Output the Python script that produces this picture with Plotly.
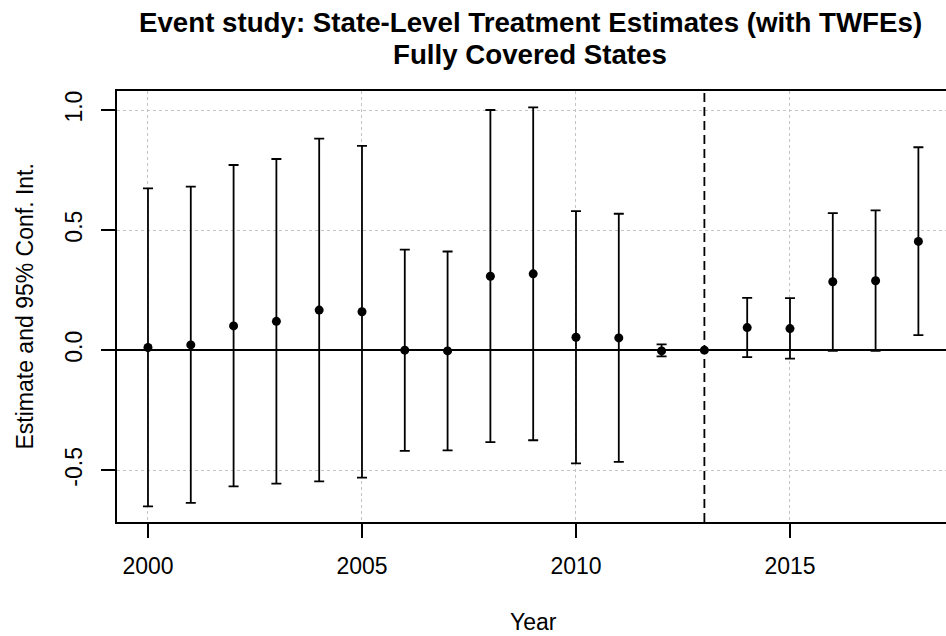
import plotly.graph_objects as go

# Event-study coefficients by year, with 95% confidence bounds
years = list(range(2000, 2019))
estimate = [0.011, 0.022, 0.101, 0.120, 0.167, 0.160, 0.000, -0.003, 0.308, 0.318,
            0.054, 0.051, -0.003, 0.000, 0.094, 0.090, 0.285, 0.289, 0.453]
upper = [0.674, 0.681, 0.771, 0.796, 0.881, 0.851, 0.419, 0.411, 1.000, 1.011,
         0.579, 0.568, 0.024, 0.000, 0.218, 0.217, 0.571, 0.582, 0.845]
lower = [-0.650, -0.636, -0.567, -0.556, -0.546, -0.531, -0.419, -0.417, -0.383, -0.375,
         -0.471, -0.465, -0.026, 0.000, -0.029, -0.035, -0.003, -0.003, 0.0625]

treatment_year = 2013
x_ticks = [2000, 2005, 2010, 2015]
y_ticks = [-0.5, 0.0, 0.5, 1.0]
y_tick_text = ["-0.5", "0.0", "0.5", "1.0"]

title_line1 = "Event study: State-Level Treatment Estimates (with TWFEs)"
title_line2 = "Fully Covered States"
x_title = "Year"
y_title = "Estimate and 95% Conf. Int."

FONT = "Liberation Sans, Arial, Helvetica, sans-serif"
AXIS_SIZE = 23
TITLE_SIZE = 27.7

err_plus = [u - e for u, e in zip(upper, estimate)]
err_minus = [e - l for e, l in zip(estimate, lower)]

fig = go.Figure()
fig.add_trace(go.Scatter(
    x=years, y=estimate, mode="markers",
    marker=dict(symbol="circle", size=9, color="black"),
    error_y=dict(type="data", array=err_plus, arrayminus=err_minus,
                 color="black", thickness=1.8, width=5, symmetric=False),
    showlegend=False, hoverinfo="x+y",
))

# treatment onset marker
fig.add_shape(type="line", xref="x", yref="paper", x0=treatment_year, x1=treatment_year,
              y0=0, y1=1, line=dict(color="black", width=1.8, dash="9px,5px"), layer="above")

fig.update_layout(
    width=946, height=636,
    margin=dict(l=117, r=0, t=91, b=114),
    paper_bgcolor="white", plot_bgcolor="white",
    font=dict(family=FONT, color="black", size=AXIS_SIZE),
    xaxis=dict(
        range=[1999.276, 2018.645], tickvals=x_ticks,
        showgrid=True, gridcolor="#c4c4c4", gridwidth=1, griddash="dot",
        showline=True, linecolor="black", linewidth=2, mirror=True,
        ticks="outside", ticklen=14, tickwidth=2, tickcolor="black",
        tickfont=dict(family=FONT, size=AXIS_SIZE, color="black"),
        ticklabelstandoff=8, zeroline=False,
    ),
    yaxis=dict(
        range=[-0.7154, 1.0792], tickvals=y_ticks, ticktext=y_tick_text,
        tickangle=-90,
        showgrid=True, gridcolor="#c4c4c4", gridwidth=1, griddash="dot",
        showline=True, linecolor="black", linewidth=2, mirror=False,
        ticks="outside", ticklen=14, tickwidth=2, tickcolor="black",
        tickfont=dict(family=FONT, size=AXIS_SIZE, color="black"),
        ticklabelstandoff=10,
        zeroline=True, zerolinecolor="black", zerolinewidth=1.8,
    ),
    annotations=[
        dict(text="<b>" + title_line1 + "</b>", xref="paper", yref="paper",
             x=0.4985, y=1.0 + (91 - 22) / 431, xanchor="center", yanchor="middle",
             showarrow=False, font=dict(family=FONT, size=TITLE_SIZE, color="black")),
        dict(text="<b>" + title_line2 + "</b>", xref="paper", yref="paper",
             x=0.4985, y=1.0 + (91 - 55) / 431, xanchor="center", yanchor="middle",
             showarrow=False, font=dict(family=FONT, size=TITLE_SIZE, color="black")),
        dict(text=x_title, xref="paper", yref="paper",
             x=0.502, y=-(622 - 522) / 431, xanchor="center", yanchor="middle",
             showarrow=False, font=dict(family=FONT, size=AXIS_SIZE, color="black")),
        dict(text=y_title, xref="paper", yref="paper", textangle=-90,
             x=-(117 - 24) / 829, y=0.5, xanchor="center", yanchor="middle",
             showarrow=False, font=dict(family=FONT, size=AXIS_SIZE, color="black")),
    ],
)

fig.write_html("out.html")
